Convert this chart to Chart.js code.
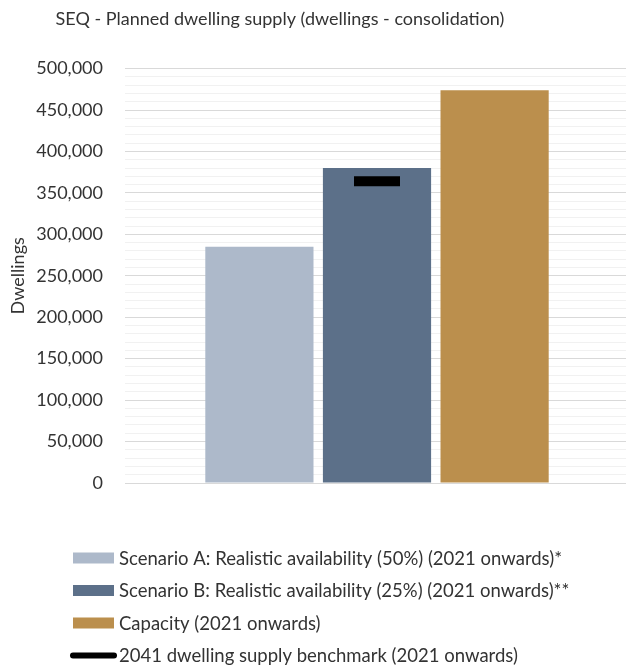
<!DOCTYPE html>
<html>
<head>
<meta charset="utf-8">
<script src="https://cdn.jsdelivr.net/npm/chart.js@4.4.1/dist/chart.umd.min.js"></script>
<style>
  html, body { margin: 0; padding: 0; background: #fff; overflow: hidden; }
  #canvas { position: absolute; left: -99px; top: 0; }
</style>
</head>
<body>
<canvas id="canvas" width="761" height="668"></canvas>
<script>
let categories = [""];
let seriesLabels = [
    "Scenario A: Realistic availability (50%) (2021 onwards)*",
    "Scenario B: Realistic availability (25%) (2021 onwards)**",
    "Capacity (2021 onwards)"
];
let scenarioA = [285000];
let scenarioB = [380000];
let capacity = [474000];
let benchmarkLabel = "2041 dwelling supply benchmark (2021 onwards)";
let benchmark = [364000];

let colorA = "#adb9ca";
let colorB = "#5c7089";
let colorCap = "#bb8f4d";
let textColor = "#333333";
let fontName = "Lato";
let offsetX = 99; // canvas sits 99px left of the window

// legend as a stacked list under the plot
let stackedLegend = {
    id: "stackedLegend",
    afterDraw(chart) {
        let ctx = chart.ctx;
        let items = [0, 1, 2, 3].map((i) => chart.data.datasets.find((d) => d.legendIndex === i));
        ctx.save();
        ctx.font = "18.5px " + fontName;
        ctx.textBaseline = "middle";
        items.forEach((ds, i) => {
            let y = 558 + i * 32.5;
            let x = offsetX + 73;
            if (ds.type === "line") {
                ctx.strokeStyle = "#000";
                ctx.lineWidth = 6;
                ctx.lineCap = "round";
                ctx.beginPath();
                ctx.moveTo(x, y);
                ctx.lineTo(x + 41, y);
                ctx.stroke();
            } else {
                ctx.fillStyle = ds.backgroundColor;
                ctx.fillRect(x, y - 5.5, 41, 11);
            }
            ctx.fillStyle = textColor;
            ctx.fillText(ds.label, offsetX + 119, y + 1);
        });
        ctx.restore();
    }
};

new Chart(document.getElementById("canvas").getContext("2d"), {
    data: {
        labels: categories,
        datasets: [
            {type: "bar", label: seriesLabels[0], data: scenarioA, backgroundColor: colorA, legendIndex: 0, order: 1},
            {type: "bar", label: seriesLabels[1], data: scenarioB, backgroundColor: colorB, legendIndex: 1, order: 1},
            {type: "bar", label: seriesLabels[2], data: capacity, backgroundColor: colorCap, legendIndex: 2, order: 1},
            {
                type: "line", label: benchmarkLabel, data: benchmark, legendIndex: 3, order: 0,
                showLine: false, pointStyle: "line", pointRadius: 23, pointHoverRadius: 23,
                borderColor: "#000", pointBorderWidth: 10, pointHoverBorderWidth: 10
            }
        ]
    },
    options: {
        responsive: false,
        animation: false,
        datasets: {
            bar: {categoryPercentage: 0.70, barPercentage: 0.92}
        },
        layout: {
            padding: {left: 0, right: 3, top: 0, bottom: 185}
        },
        plugins: {
            legend: {display: false},
            tooltip: {enabled: false},
            title: {
                display: true,
                text: "SEQ - Planned dwelling supply (dwellings - consolidation)",
                color: textColor,
                font: {family: fontName, size: 18, weight: "normal"},
                padding: {top: 8, bottom: 39}
            }
        },
        scales: {
            x: {display: false},
            y: {
                min: 0,
                max: 500000,
                border: {display: false},
                grid: {
                    drawTicks: false,
                    color: (c) => (c.tick && c.tick.value % 50000 === 0) ? "#d9d9d9" : "#f1f1f1"
                },
                ticks: {
                    stepSize: 10000,
                    autoSkip: false,
                    padding: 22,
                    color: textColor,
                    font: {family: fontName, size: 18},
                    callback: (v) => (v % 50000 === 0) ? v.toLocaleString("en-US") : ""
                },
                title: {
                    display: true,
                    text: "Dwellings",
                    color: textColor,
                    font: {family: fontName, size: 18},
                    padding: {top: 106, bottom: 0}
                },
                afterFit: (scale) => { scale.width = 224; }
            }
        }
    },
    plugins: [stackedLegend]
});
</script>
</body>
</html>
